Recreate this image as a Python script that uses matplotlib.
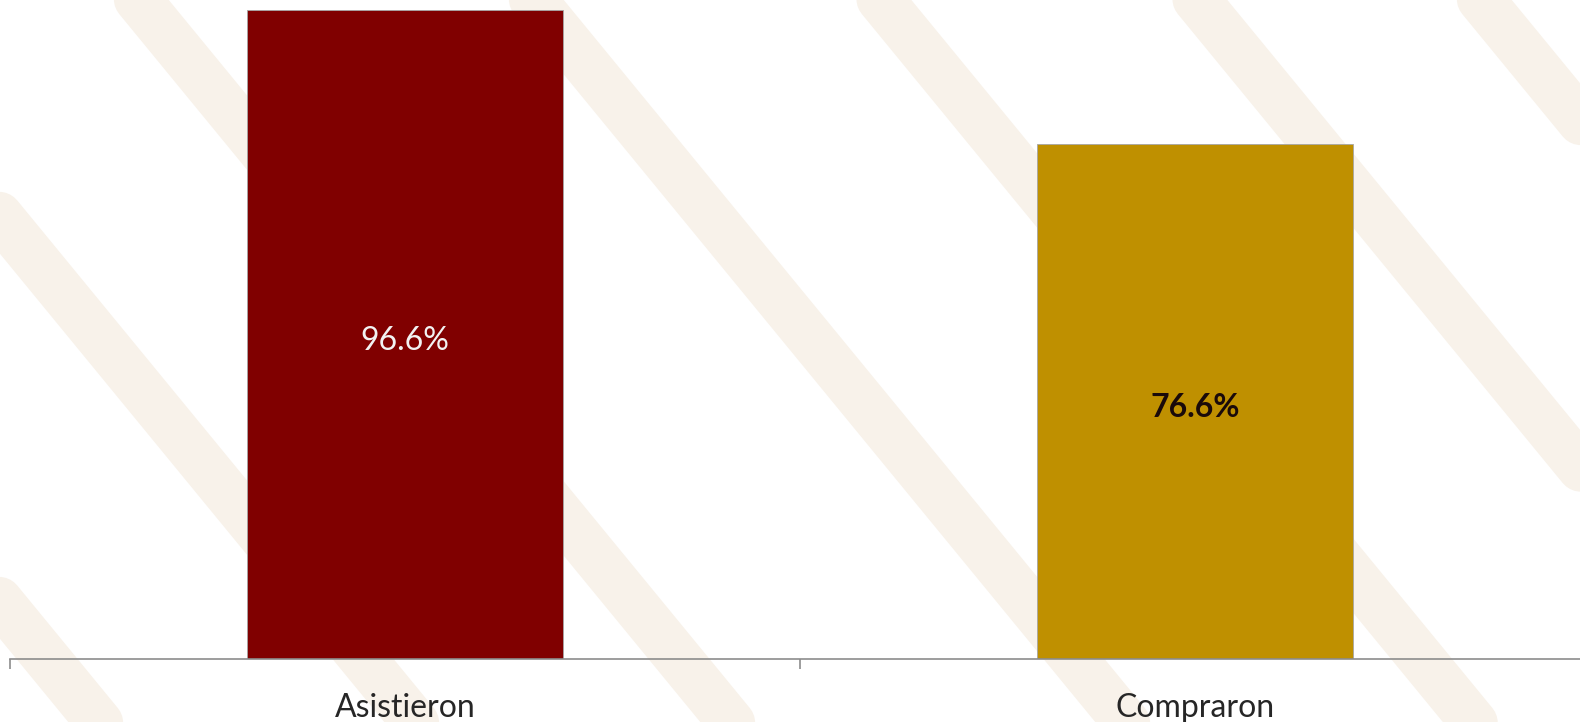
import matplotlib
matplotlib.use('Agg')
import matplotlib.pyplot as plt
import numpy as np

# DATA ----------------------------------------------------------------
categories = ['Asistieron', 'Compraron']
values = [96.6, 76.6]
labels = ['96.6%', '76.6%']
bar_colors = ['#800000', '#BF9000']

plt.rcParams['font.family'] = ['Lato', 'DejaVu Sans']

fig = plt.figure(figsize=(15.8, 7.22), dpi=100)
fig.patch.set_facecolor('white')

# faint background pattern (decorative only)
bg = fig.add_axes([0, 0, 1, 1], zorder=0)
bg.set_xlim(0, 1)
bg.set_ylim(0, 1)
bg.axis('off')
band = '#F8F2EA'
for x0 in [-0.35, -0.15, 0.05, 0.3, 0.52, 0.72, 0.9]:
    bg.plot([x0, x0 + 0.45], [1.1, -0.1], color=band, lw=34, solid_capstyle='round')

ax = fig.add_axes([10 / 1580, 63 / 722, 1.0, 659 / 722], zorder=1)
ax.patch.set_alpha(0)
x = np.arange(len(categories))
bars = ax.bar(x, values, width=0.4, color=bar_colors, edgecolor='#A6A6A6', linewidth=0.6)

ax.set_xlim(-0.5, 1.5)
ax.set_ylim(0, 98.07)

# labels inside the bars
ax.annotate(labels[0], (x[0], values[0] / 2), xytext=(0, -2.5), textcoords='offset points',
            ha='center', va='center_baseline', color='#F2F2F2', fontsize=23)
ax.annotate(labels[1], (x[1], values[1] / 2), xytext=(0, -2.5), textcoords='offset points',
            ha='center', va='center_baseline', color='#1A0A0A', fontsize=23, fontweight='bold')

for s in ['top', 'right', 'left']:
    ax.spines[s].set_visible(False)
ax.spines['bottom'].set_color('#8C8C8C')
ax.spines['bottom'].set_linewidth(1.2)
ax.set_yticks([])
ax.set_xticks([-0.5, 0.5, 1.5])
ax.set_xticklabels([])
ax.set_xticks(x, minor=True)
ax.set_xticklabels(categories, minor=True, fontsize=23, color='#262626')
ax.tick_params(axis='x', which='major', length=7, color='#8C8C8C', width=1.2)
ax.tick_params(axis='x', which='minor', length=0, pad=24.5)

fig.savefig('out.png', dpi=100)
